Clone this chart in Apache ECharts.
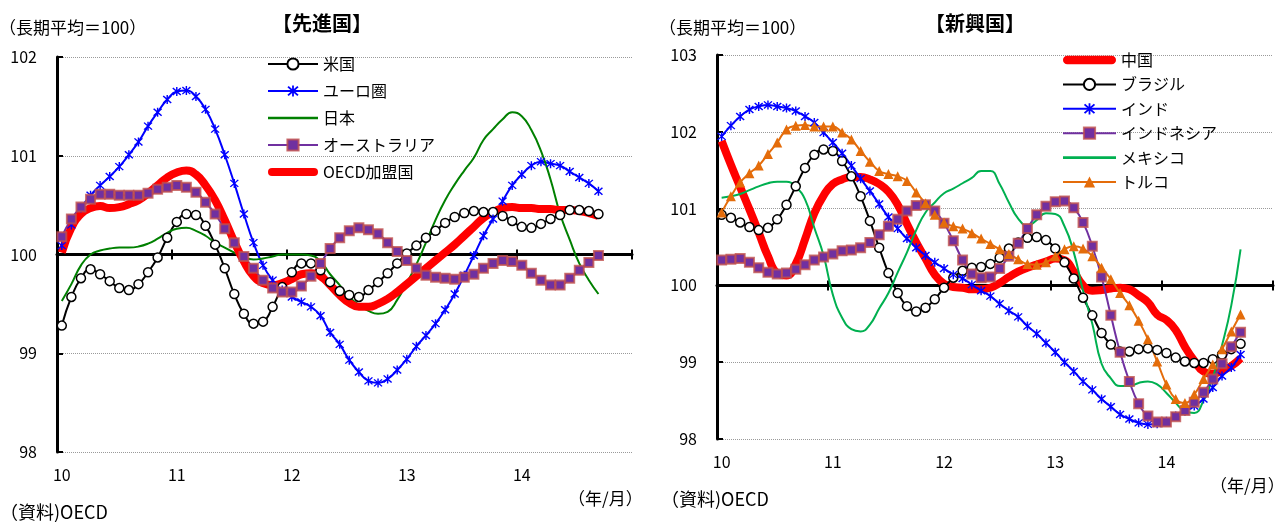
<!DOCTYPE html>
<html>
<head>
<meta charset="utf-8">
<script src="https://cdn.jsdelivr.net/npm/echarts@6/dist/echarts.min.js"></script>
<style>
html, body { margin: 0; padding: 0; background: #fff; }
#main { width: 1287px; height: 522px; }
</style>
</head>
<body>
<div id="main"></div>
<script>
// x axis: Jan 2010 - Dec 2014, one category per month
var years = ['10', '11', '12', '13', '14'];
var months = [];
years.forEach(function (y) {
  for (var m = 1; m <= 12; m++) months.push(y + '/' + m);
});

// 先進国 (monthly, 2010/1 - 2014/9)
var usa = [99.28, 99.57, 99.76, 99.85, 99.80, 99.73, 99.66, 99.64, 99.70, 99.82,
  99.97, 100.17, 100.33, 100.41, 100.40, 100.29, 100.10, 99.86, 99.60, 99.40,
  99.30, 99.32, 99.47, 99.67, 99.82, 99.91, 99.91, 99.84, 99.72, 99.63,
  99.59, 99.57, 99.64, 99.72, 99.81, 99.91, 100.01, 100.09, 100.17, 100.24,
  100.32, 100.38, 100.42, 100.44, 100.43, 100.43, 100.39, 100.34, 100.28, 100.27,
  100.31, 100.36, 100.40, 100.45, 100.45, 100.44, 100.41];
var euro = [100.09, 100.30, 100.47, 100.60, 100.70, 100.79, 100.89, 101.01, 101.14, 101.30,
  101.44, 101.57, 101.65, 101.66, 101.60, 101.47, 101.27, 101.01, 100.72, 100.41,
  100.12, 99.89, 99.74, 99.64, 99.57, 99.52, 99.47, 99.38, 99.21, 99.09,
  98.93, 98.81, 98.72, 98.70, 98.74, 98.83, 98.94, 99.07, 99.18, 99.30,
  99.44, 99.60, 99.79, 99.99, 100.19, 100.36, 100.54, 100.70, 100.81, 100.90,
  100.94, 100.92, 100.90, 100.84, 100.78, 100.72, 100.64];
var japan = [99.53, 99.70, 99.89, 100.00, 100.04, 100.06, 100.07, 100.07, 100.08, 100.11,
  100.16, 100.22, 100.26, 100.27, 100.24, 100.19, 100.12, 100.07, 100.02, 99.97,
  99.95, 99.96, 99.98, 100.00, 100.00, 100.00, 99.99, 99.93, 99.80, 99.69,
  99.57, 99.49, 99.43, 99.40, 99.42, 99.54, 99.71, 99.90, 100.12, 100.35,
  100.55, 100.71, 100.85, 100.98, 101.16, 101.27, 101.37, 101.44, 101.40, 101.26,
  101.05, 100.76, 100.41, 100.15, 99.91, 99.74, 99.60];
var australia = [100.18, 100.36, 100.48, 100.56, 100.61, 100.61, 100.60, 100.60, 100.60, 100.62,
  100.66, 100.68, 100.70, 100.68, 100.63, 100.53, 100.41, 100.26, 100.12, 99.98,
  99.86, 99.74, 99.66, 99.62, 99.62, 99.68, 99.78, 99.91, 100.06, 100.17,
  100.24, 100.27, 100.25, 100.21, 100.12, 100.03, 99.94, 99.86, 99.79, 99.77,
  99.76, 99.75, 99.77, 99.80, 99.86, 99.91, 99.94, 99.93, 99.89, 99.81,
  99.74, 99.69, 99.69, 99.76, 99.84, 99.92, 99.99];
var oecd = [100.02, 100.27, 100.41, 100.47, 100.49, 100.47, 100.48, 100.51, 100.55, 100.62,
  100.70, 100.78, 100.83, 100.85, 100.81, 100.70, 100.55, 100.35, 100.13, 99.93,
  99.78, 99.71, 99.69, 99.71, 99.75, 99.80, 99.81, 99.78, 99.69, 99.59,
  99.51, 99.47, 99.47, 99.50, 99.55, 99.62, 99.70, 99.78, 99.86, 99.94,
  100.02, 100.10, 100.19, 100.28, 100.37, 100.43, 100.47, 100.48, 100.47, 100.47,
  100.46, 100.46, 100.45, 100.45, 100.44, 100.42, 100.39];

// 新興国
var china = [101.88, 101.57, 101.28, 100.99, 100.69, 100.38, 100.16, 100.13, 100.28, 100.60,
  100.94, 101.17, 101.32, 101.38, 101.41, 101.41, 101.38, 101.32, 101.22, 101.05,
  100.80, 100.56, 100.35, 100.14, 100.02, 99.98, 99.97, 99.95, 99.95, 99.97,
  100.03, 100.11, 100.18, 100.23, 100.27, 100.31, 100.35, 100.33, 100.18, 100.00,
  99.93, 99.94, 99.96, 99.97, 99.95, 99.87, 99.78, 99.62, 99.55, 99.42,
  99.20, 99.02, 98.88, 98.85, 98.89, 98.95, 99.05];
var brazil = [100.92, 100.88, 100.82, 100.76, 100.72, 100.75, 100.86, 101.05, 101.29, 101.53,
  101.70, 101.77, 101.75, 101.62, 101.42, 101.16, 100.84, 100.49, 100.16, 99.90,
  99.73, 99.66, 99.71, 99.82, 99.97, 100.10, 100.19, 100.23, 100.24, 100.28,
  100.36, 100.48, 100.56, 100.62, 100.63, 100.59, 100.48, 100.30, 100.09, 99.84,
  99.61, 99.38, 99.23, 99.14, 99.14, 99.17, 99.18, 99.16, 99.12, 99.06,
  99.01, 98.99, 98.99, 99.04, 99.10, 99.17, 99.24];
var india = [101.94, 102.08, 102.20, 102.29, 102.33, 102.35, 102.33, 102.31, 102.27, 102.20,
  102.12, 101.99, 101.86, 101.72, 101.56, 101.39, 101.23, 101.06, 100.89, 100.74,
  100.61, 100.49, 100.39, 100.30, 100.22, 100.14, 100.09, 100.01, 99.93, 99.86,
  99.76, 99.67, 99.59, 99.47, 99.37, 99.25, 99.13, 99.00, 98.88, 98.75,
  98.64, 98.52, 98.42, 98.32, 98.26, 98.21, 98.19, 98.20, 98.23, 98.30,
  98.36, 98.43, 98.52, 98.67, 98.82, 98.93, 99.10];
var indonesia = [100.33, 100.34, 100.35, 100.30, 100.23, 100.17, 100.15, 100.16, 100.21, 100.27,
  100.33, 100.37, 100.41, 100.45, 100.46, 100.49, 100.56, 100.66, 100.77, 100.86,
  100.97, 101.04, 101.05, 100.97, 100.81, 100.58, 100.33, 100.15, 100.10, 100.11,
  100.22, 100.38, 100.55, 100.74, 100.92, 101.03, 101.09, 101.10, 101.01, 100.82,
  100.51, 100.11, 99.61, 99.13, 98.75, 98.46, 98.30, 98.22, 98.22, 98.29,
  98.37, 98.48, 98.61, 98.78, 98.98, 99.20, 99.39];
var mexico = [101.14, 101.16, 101.19, 101.24, 101.29, 101.33, 101.35, 101.35, 101.28, 101.12,
  100.75, 100.39, 99.88, 99.58, 99.43, 99.40, 99.49, 99.70, 99.90, 100.17,
  100.43, 100.72, 100.95, 101.08, 101.20, 101.26, 101.33, 101.40, 101.49, 101.49,
  101.32, 101.08, 100.87, 100.78, 100.85, 100.94, 100.93, 100.77, 100.43, 99.93,
  99.50, 98.98, 98.79, 98.69, 98.69, 98.73, 98.75, 98.71, 98.60, 98.47,
  98.36, 98.34, 98.50, 98.80, 99.22, 99.74, 100.47];
var turkey = [100.95, 101.16, 101.34, 101.46, 101.56, 101.71, 101.86, 102.03, 102.08, 102.09,
  102.07, 102.07, 102.07, 101.99, 101.90, 101.75, 101.61, 101.49, 101.45, 101.42,
  101.36, 101.21, 101.07, 100.92, 100.82, 100.77, 100.74, 100.68, 100.61, 100.54,
  100.47, 100.41, 100.34, 100.28, 100.27, 100.30, 100.38, 100.47, 100.51, 100.48,
  100.38, 100.23, 100.08, 99.90, 99.74, 99.54, 99.30, 99.01, 98.71, 98.52,
  98.47, 98.58, 98.78, 98.97, 99.17, 99.40, 99.62];

var FONT = '"Noto Sans CJK JP", "Noto Sans", sans-serif';
// Excel style "*" marker
var STAR = 'path://M4.3,0H5.7V10H4.3Z M0.6,1.6L1.6,0.6L9.4,8.4L8.4,9.4Z M8.4,0.6L9.4,1.6L1.6,9.4L0.6,8.4Z';
// plain line icons for the legend
var THIN = 'path://M0,0H50V2.5H0Z';
var THICK = 'path://M4,0H46A4,4 0 0 1 46,8H4A4,4 0 0 1 4,0Z';

var grids = [
  { left: 57, top: 57, width: 575, height: 395 },
  { left: 717, top: 55, width: 556, height: 384 }
];
var yRange = [[98, 102], [98, 103]];

var xAxes = [];
var yAxes = [];
grids.forEach(function (g, gi) {
  var lo = yRange[gi][0], hi = yRange[gi][1];
  var off = -g.height * (100 - lo) / (hi - lo);
  // labels at the bottom
  xAxes.push({
    type: 'category', gridIndex: gi, data: months, position: 'bottom', boundaryGap: true,
    axisLine: { show: false }, axisTick: { show: false }, splitLine: { show: false },
    axisLabel: {
      interval: 11, margin: 15, fontSize: 16, color: '#000', fontFamily: FONT,
      formatter: function (v) { return v.split('/')[0]; }
    }
  });
  // the 100 line with year ticks (down)
  xAxes.push({
    type: 'category', gridIndex: gi, data: months, position: 'bottom', offset: off, boundaryGap: true,
    axisLine: { show: true, onZero: false, lineStyle: { color: '#000', width: 3 } },
    axisTick: { show: true, interval: 11, length: 5, lineStyle: { color: '#000', width: 2 } },
    axisLabel: { show: false }, splitLine: { show: false }
  });
  // same ticks going up
  xAxes.push({
    type: 'category', gridIndex: gi, data: months, position: 'bottom', offset: off, boundaryGap: true,
    axisLine: { show: false, onZero: false },
    axisTick: { show: true, inside: true, interval: 11, length: 5, lineStyle: { color: '#000', width: 2 } },
    axisLabel: { show: false }, splitLine: { show: false }
  });
  yAxes.push({
    type: 'value', gridIndex: gi, min: lo, max: hi, interval: 1,
    axisLine: { show: true, lineStyle: { color: '#000', width: 3 } },
    axisTick: { show: true, inside: true, length: 6, lineStyle: { color: '#000', width: 2 } },
    splitLine: { show: true, lineStyle: { color: '#9a9a9a', type: 'dotted', width: 1 } },
    axisLabel: { margin: 20, fontSize: 16, color: '#000', fontFamily: FONT }
  });
});

function line(name, gi, data, color, width, symbol, size, item) {
  return {
    name: name, type: 'line', xAxisIndex: gi * 3, yAxisIndex: gi, data: data,
    smooth: true, symbol: symbol || 'none', symbolSize: size || 0,
    showSymbol: !!symbol, showAllSymbol: true,
    lineStyle: { color: color, width: width },
    itemStyle: item || { color: color }
  };
}

var circle = { color: '#fff', borderColor: '#000', borderWidth: 1.5 };
var square = { color: '#7030a0', borderColor: 'rgba(192,80,77,0.8)', borderWidth: 2 };

var series = [
  line('米国', 0, usa, '#000', 2, 'circle', 9, circle),
  line('ユーロ圏', 0, euro, '#0000ff', 2, STAR, 9),
  line('日本', 0, japan, '#008000', 2),
  line('オーストラリア', 0, australia, '#7030a0', 2, 'rect', 9, square),
  line('OECD加盟国', 0, oecd, '#ff0000', 8),

  line('中国', 1, china, '#ff0000', 8),
  line('ブラジル', 1, brazil, '#000', 2, 'circle', 9, circle),
  line('インド', 1, india, '#0000ff', 2, STAR, 9),
  line('インドネシア', 1, indonesia, '#7030a0', 2, 'rect', 9, square),
  line('メキシコ', 1, mexico, '#00b050', 2),
  line('トルコ', 1, turkey, '#e46c0a', 2, 'triangle', 10)
];

var legendText = { fontSize: 16, color: '#000', lineHeight: 16, fontFamily: FONT };

var chart = echarts.init(document.getElementById('main'));
chart.setOption({
  animation: false,
  backgroundColor: '#fff',
  grid: grids,
  xAxis: xAxes,
  yAxis: yAxes,
  legend: [
    {
      orient: 'vertical', left: 262, top: 51, itemWidth: 50, itemHeight: 14, itemGap: 11,
      data: ['米国', 'ユーロ圏', { name: '日本', icon: THIN }, 'オーストラリア', { name: 'OECD加盟国', icon: THICK }],
      textStyle: legendText
    },
    {
      orient: 'vertical', left: 1057, top: 47, itemWidth: 53, itemHeight: 14, itemGap: 8.4,
      data: [{ name: '中国', icon: THICK }, 'ブラジル', 'インド', 'インドネシア', { name: 'メキシコ', icon: THIN }, 'トルコ'],
      textStyle: legendText
    }
  ],
  graphic: [
    { type: 'text', x: -1, y: 28, style: { text: '（長期平均＝100）', font: '17px ' + FONT, fill: '#000', textAlign: 'left', textVerticalAlign: 'middle' } },
    { type: 'text', x: 322, y: 23, style: { text: '【先進国】', font: 'bold 20px ' + FONT, fill: '#000', textAlign: 'center', textVerticalAlign: 'middle' } },
    { type: 'text', x: 659, y: 28, style: { text: '（長期平均＝100）', font: '17px ' + FONT, fill: '#000', textAlign: 'left', textVerticalAlign: 'middle' } },
    { type: 'text', x: 975, y: 23, style: { text: '【新興国】', font: 'bold 20px ' + FONT, fill: '#000', textAlign: 'center', textVerticalAlign: 'middle' } },
    { type: 'text', x: 0, y: 512, style: { text: '（資料)OECD', font: '18px ' + FONT, fill: '#000', textAlign: 'left', textVerticalAlign: 'middle' } },
    { type: 'text', x: 661, y: 499, style: { text: '（資料)OECD', font: '18px ' + FONT, fill: '#000', textAlign: 'left', textVerticalAlign: 'middle' } },
    { type: 'text', x: 568, y: 499, style: { text: '（年/月）', font: '17px ' + FONT, fill: '#000', textAlign: 'left', textVerticalAlign: 'middle' } },
    { type: 'text', x: 1210, y: 486, style: { text: '（年/月）', font: '17px ' + FONT, fill: '#000', textAlign: 'left', textVerticalAlign: 'middle' } }
  ],
  series: series
});
</script>
</body>
</html>
